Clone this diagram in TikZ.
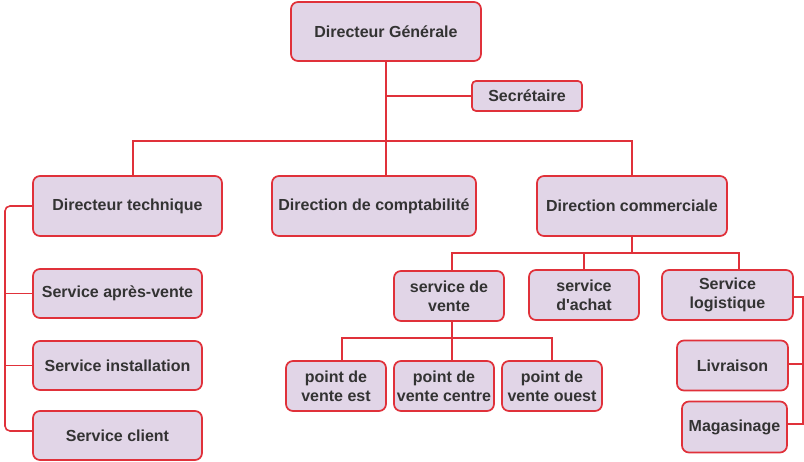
\documentclass[tikz,border=0pt]{standalone}
\usepackage{fontspec}
\setmainfont{Liberation Sans}
\usepackage{tikz}
\usepackage{color}
\definecolor{boxfill}{HTML}{E1D5E7}
\definecolor{boxline}{HTML}{E0313A}
\definecolor{boxtext}{HTML}{333333}

\begin{document}
\begin{tikzpicture}[x=1pt, y=-1pt,
  box/.style={draw=boxline, fill=boxfill, line width=1.7pt, rounded corners=7pt, inner sep=0pt,
    align=center, text=boxtext, font=\fontsize{16}{19}\selectfont\bfseries},
  link/.style={draw=boxline, line width=1.6pt}]
\useasboundingbox (0,0) rectangle (804,462);

% Drawing boxes
\node[box, minimum width=190, minimum height=59] (dg) at (386,31.5) {Directeur Générale};
\node[box, minimum width=110, minimum height=30, rounded corners=4pt] (sec) at (527,96) {Secrétaire};
\node[box, minimum width=189, minimum height=60] (tech) at (127.5,206) {Directeur technique};
\node[box, minimum width=204, minimum height=60] (compta) at (374,206) {Direction de comptabilité};
\node[box, minimum width=190, minimum height=60] (comm) at (632,206) {Direction commerciale};
\node[box, minimum width=169, minimum height=49] (apres) at (117.5,293.5) {Service après-vente};
\node[box, minimum width=169, minimum height=49] (install) at (117.5,365.5) {Service installation};
\node[box, minimum width=169, minimum height=49] (client) at (117.5,435.5) {Service client};
\node[box, minimum width=110, minimum height=50] (vente) at (449,296) {service de\\vente};
\node[box, minimum width=110, minimum height=50] (achat) at (584,295) {service\\d\textquotesingle achat};
\node[box, minimum width=131, minimum height=50] (logi) at (727.5,295) {Service\\logistique};
\node[box, minimum width=100, minimum height=50] (est) at (336,386) {point de\\vente est};
\node[box, minimum width=100, minimum height=50] (centre) at (444,386) {point de\\vente centre};
\node[box, minimum width=100, minimum height=50] (ouest) at (552,386) {point de\\vente ouest};
\node[box, minimum width=111, minimum height=50] (livr) at (732.5,365.5) {Livraison};
\node[box, minimum width=105, minimum height=51] (mag) at (734.5,427) {Magasinage};

% Drawing links
\coordinate (busA) at (386,141);
\coordinate (busB) at (632,253);
\coordinate (busC) at (452,338);
\coordinate (railL) at (5,0);
\coordinate (railR) at (803,0);
\draw[link] (dg.south) -- (dg.south |- compta.north);
\draw[link] (sec.west -| dg.south) -- (sec.west);
\draw[link] ([xshift=5.5pt]tech.north) |- (busA) -| (comm.north);
\draw[link] (comm.south) -- (busB);
\draw[link] ([xshift=3pt]vente.north) |- (busB) -| ([xshift=11.5pt]logi.north);
\draw[link] (achat.north) -- (achat.north |- busB);
\draw[link] ([xshift=3pt]vente.south) -- (busC);
\draw[link] ([xshift=6pt]est.north) |- (busC) -| (ouest.north);
\draw[link] ([xshift=8pt]centre.north) -- (busC);
\draw[link, rounded corners=5pt] (tech.west) -| ([yshift=4.5pt]railL |- client.west) -- ([yshift=4.5pt]client.west);
\draw[link] (railL |- apres.west) -- (apres.west);
\draw[link] (railL |- install.west) -- (install.west);
\draw[link] ([yshift=-2pt]logi.east) -| ([yshift=3pt]railR |- mag.east) -- ([yshift=3pt]mag.east);
\draw[link] ([yshift=1.5pt]railR |- livr.east) -- ([yshift=1.5pt]livr.east);
\end{tikzpicture}
\end{document}
